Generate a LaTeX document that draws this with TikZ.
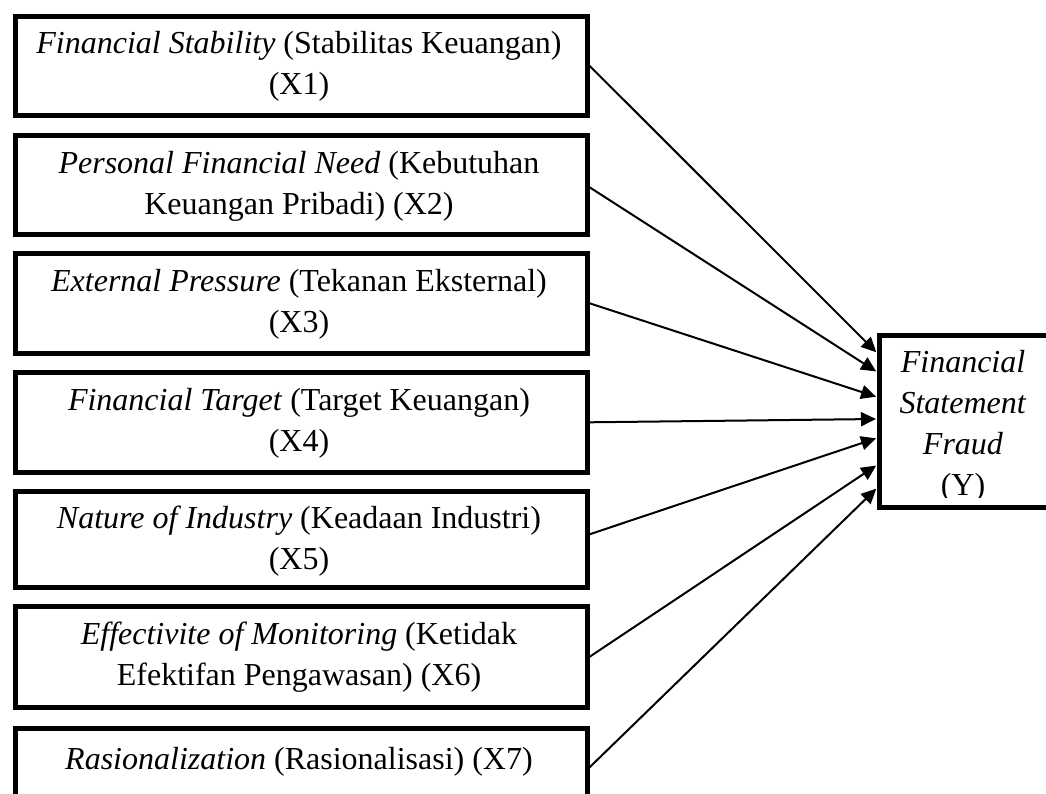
\documentclass[tikz,border=0pt]{standalone}
\usepackage{fontspec}
\setmainfont{Liberation Serif}
\usetikzlibrary{arrows.meta,calc}
\begin{document}
\begin{tikzpicture}[x=1pt,y=-1pt,
  box/.style={draw,line width=4.6pt,minimum width=572pt,inner sep=0pt,anchor=north west},
  lbl/.style={font=\fontsize{32}{41}\selectfont,align=center,inner sep=0pt},
  arr/.style={line width=2pt,-{Triangle[length=15pt,width=14pt]},shorten >=1pt}]
\fill[white] (0,0) rectangle (1046,794);
\clip (0,0) rectangle (1046,794);
\useasboundingbox (0,0) rectangle (1046,794);
% boxes
\node[box,minimum height=99pt]  (b1) at (13,14)  {};
\node[box,minimum height=99pt]  (b2) at (13,133) {};
\node[box,minimum height=100pt] (b3) at (13,251) {};
\node[box,minimum height=100pt] (b4) at (13,370) {};
\node[box,minimum height=96pt]  (b5) at (13,489) {};
\node[box,minimum height=101pt] (b6) at (13,604) {};
\node[box,minimum height=100pt] (b7) at (13,726) {};
\node[box,minimum width=175pt,minimum height=172pt] (Y) at (877,333) {};
% texts
\node[lbl] (t1) at (299,66.5) {\textit{Financial Stability} (Stabilitas Keuangan)\\(X1)};
\node[lbl] (t2) at (299,186) {\textit{Personal Financial Need} (Kebutuhan\\Keuangan Pribadi) (X2)};
\node[lbl] (t3) at (299,304) {\textit{External Pressure} (Tekanan Eksternal)\\(X3)};
\node[lbl] (t4) at (299,423) {\textit{Financial Target} (Target Keuangan)\\(X4)};
\begin{scope}
\clip (b5.north west) rectangle ($(b5.south east)+(0,-13)$);
\node[lbl] (t5) at (299,541) {\textit{Nature of Industry} (Keadaan Industri)\\(X5)};
\end{scope}
\node[lbl] (t6) at (299,657) {\textit{Effectivite of Monitoring} (Ketidak\\Efektifan Pengawasan) (X6)};
\node[lbl,anchor=base] (t7) at (299,769) {\textit{Rasionalization} (Rasionalisasi) (X7)};
\begin{scope}
\clip (Y.north west) rectangle ($(Y.south east)+(0,-12)$);
\node[lbl] (tY) at (963,426) {\textit{Financial}\\\textit{Statement}\\\textit{Fraud}\\(Y)};
\end{scope}
% arrow end points on Y
\coordinate (e1) at ($(Y.north west)+(0,20)$);
\coordinate (e2) at ($(Y.north west)+(0,39)$);
\coordinate (e3) at ($(Y.north west)+(0,64)$);
\coordinate (e4) at ($(Y.north west)+(0,86)$);
\coordinate (e5) at ($(Y.north west)+(0,105)$);
\coordinate (e6) at ($(Y.north west)+(0,132)$);
\coordinate (e7) at ($(Y.north west)+(0,155)$);
\draw[arr] (b1.east) -- (e1);
\draw[arr] ([yshift=-2.5pt]b2.east) -- (e2);
\draw[arr] (b3.east) -- (e3);
\draw[arr] (b4.east) -- (e4);
\draw[arr] ([yshift=5pt]b5.east) -- (e5);
\draw[arr] (b6.east) -- (e6);
\draw[arr] ([yshift=11pt]b7.east) -- (e7);
\end{tikzpicture}
\end{document}
